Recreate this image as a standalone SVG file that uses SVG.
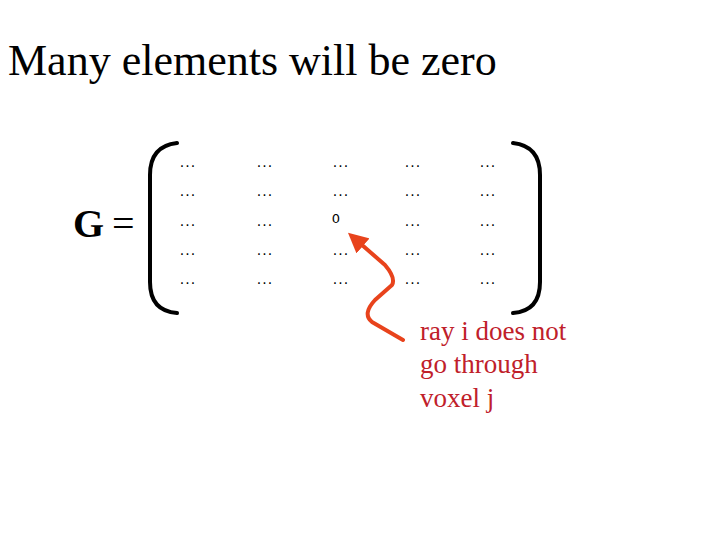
<svg xmlns="http://www.w3.org/2000/svg" width="720" height="540" viewBox="0 0 720 540">
<defs><style>
.d{font-family:"DejaVu Sans",sans-serif;font-size:14px;text-anchor:middle;fill:#000;letter-spacing:1px}
.br{fill:none;stroke:#000;stroke-width:4;stroke-linecap:round}
</style>
<marker id="ah" markerWidth="5" markerHeight="5" refX="3" refY="2.5" orient="auto" markerUnits="strokeWidth"><path d="M0,0 L5,2.5 L0,5 z" fill="#e8431c"/></marker></defs>
<rect width="720" height="540" fill="#fff"/>
<text x="8" y="75" font-family="Liberation Serif,serif" font-size="44">Many elements will be zero</text>
<g id="G"><text x="73" y="237" font-family="Liberation Serif,serif" font-size="40" font-weight="bold">G</text><text x="112" y="237" font-family="Liberation Serif,serif" font-size="40">=</text></g>
<g id="matrix">
<path class="br" d="M177,143 Q150,146 150,175 V282 Q150,311 177,313"/>
<path class="br" d="M513,143 Q540,146 540,175 V282 Q540,311 513,313"/>
<g class="d">
<text x="188" y="167">...</text><text x="265" y="167">...</text><text x="341" y="167">...</text><text x="413" y="167">...</text><text x="488" y="167">...</text>
<text x="188" y="196">...</text><text x="265" y="196">...</text><text x="341" y="196">...</text><text x="413" y="196">...</text><text x="488" y="196">...</text>
<text x="188" y="226">...</text><text x="265" y="226">...</text><text x="336" y="223" font-size="13" letter-spacing="0">0</text><text x="413" y="226">...</text><text x="488" y="226">...</text>
<text x="188" y="255">...</text><text x="265" y="255">...</text><text x="341" y="255">...</text><text x="413" y="255">...</text><text x="488" y="255">...</text>
<text x="188" y="284">...</text><text x="265" y="284">...</text><text x="341" y="284">...</text><text x="413" y="284">...</text><text x="488" y="284">...</text>
</g></g>
<g id="connectors"><path d="M403,340 L372,322 Q362,314 375,300 L392,285 Q396,278 385,265 L354,238" fill="none" stroke="#e8431c" stroke-width="4" stroke-linecap="round" stroke-linejoin="round" marker-end="url(#ah)"/></g>
<g id="label" font-family="Liberation Serif,serif" font-size="27" fill="#c0202a">
<text x="420" y="340">ray i does not</text><text x="420" y="373">go through</text><text x="420" y="407">voxel j</text></g>
</svg>
